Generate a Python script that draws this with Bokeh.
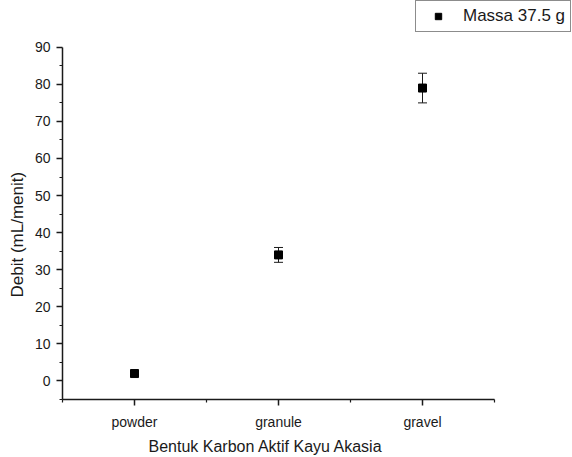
from bokeh.plotting import figure
from bokeh.models import Range1d, FixedTicker, Whisker, ColumnDataSource, TeeHead, Title
from bokeh.embed import file_html
from bokeh.resources import INLINE

categories = ["powder", "granule", "gravel"]
positions = [1, 2, 3]
debit = [2, 34, 79]
error = [0, 2, 4]
y_ticks = [0, 10, 20, 30, 40, 50, 60, 70, 80, 90]
y_minor = [-5, 5, 15, 25, 35, 45, 55, 65, 75, 85]
series_label = "Massa 37.5 g"
x_title = "Bentuk Karbon Aktif Kayu Akasia"
y_title = "Debit (mL/menit)"

src = ColumnDataSource(dict(
    x=positions, y=debit,
    lo=[v - e for v, e in zip(debit, error)],
    hi=[v + e for v, e in zip(debit, error)],
))

FONT = "Liberation Sans"
INK = "#1a1a1a"

# Frame covers x 62..572 and y 0..401 px; axes drawn only over the data extent via bounds
X_LO, X_HI_AXIS = 0.5, 3.5
Y_LO, Y_HI_AXIS = -5, 90
px_per_x = 432 / (X_HI_AXIS - X_LO)
px_per_y = 354 / (Y_HI_AXIS - Y_LO)
x_hi = X_LO + 510 / px_per_x
y_hi = Y_LO + 401 / px_per_y

p = figure(width=572, height=457, output_backend="svg", toolbar_location=None,
           x_range=Range1d(X_LO, x_hi), y_range=Range1d(Y_LO, y_hi),
           min_border_left=62, min_border_right=0, min_border_top=0, min_border_bottom=56)
p.outline_line_color = None
p.xgrid.visible = False
p.ygrid.visible = False
p.background_fill_color = "white"
p.border_fill_color = "white"

wh = Whisker(source=src, base="x", upper="hi", lower="lo", line_color=INK, line_width=1,
             upper_head=TeeHead(size=9, line_color=INK, line_width=1),
             lower_head=TeeHead(size=9, line_color=INK, line_width=1))
p.add_layout(wh)

p.scatter("x", "y", source=src, marker="square", size=8, fill_color="black",
          line_color="black", legend_label=series_label)

xa = p.xaxis[0]
xa.ticker = FixedTicker(ticks=positions, minor_ticks=[0.5, 1.5, 2.5, 3.5])
xa.major_label_overrides = {pos: c for pos, c in zip(positions, categories)}
xa.bounds = (X_LO, X_HI_AXIS)

ya = p.yaxis[0]
ya.ticker = FixedTicker(ticks=y_ticks, minor_ticks=y_minor)
ya.bounds = (Y_LO, Y_HI_AXIS)

for ax in (xa, ya):
    ax.axis_line_color = INK
    ax.axis_line_width = 1.5
    ax.major_tick_line_color = INK
    ax.minor_tick_line_color = INK
    ax.major_tick_line_width = 1.5
    ax.minor_tick_line_width = 1.2
    ax.major_tick_out = 6
    ax.major_tick_in = 0
    ax.minor_tick_out = 3
    ax.minor_tick_in = 0
    ax.major_label_text_font = FONT
    ax.major_label_text_font_size = "14px"
    ax.major_label_text_color = INK

ya.major_label_standoff = 6
xa.major_label_standoff = 8

# axis titles placed along the bounded axes
tx = Title(text=x_title, align="left", offset=86, vertical_align="bottom", standoff=6,
           text_font=FONT, text_font_size="16px", text_font_style="normal", text_color=INK)
p.add_layout(tx, "below")
ty = Title(text=y_title, align="left", offset=102, vertical_align="top", standoff=6,
           text_font=FONT, text_font_size="17px", text_font_style="normal", text_color=INK)
p.add_layout(ty, "left")

lg = p.legend[0]
lg.location = (353, 367)
lg.border_line_color = INK
lg.border_line_width = 1
lg.background_fill_alpha = 1
lg.padding = 5
lg.margin = 0
lg.glyph_width = 34
lg.glyph_height = 16
lg.label_height = 17
lg.label_standoff = 8
lg.label_text_font = FONT
lg.label_text_font_size = "17px"
lg.label_text_color = INK

open("out.html", "w").write(file_html(p, INLINE))
